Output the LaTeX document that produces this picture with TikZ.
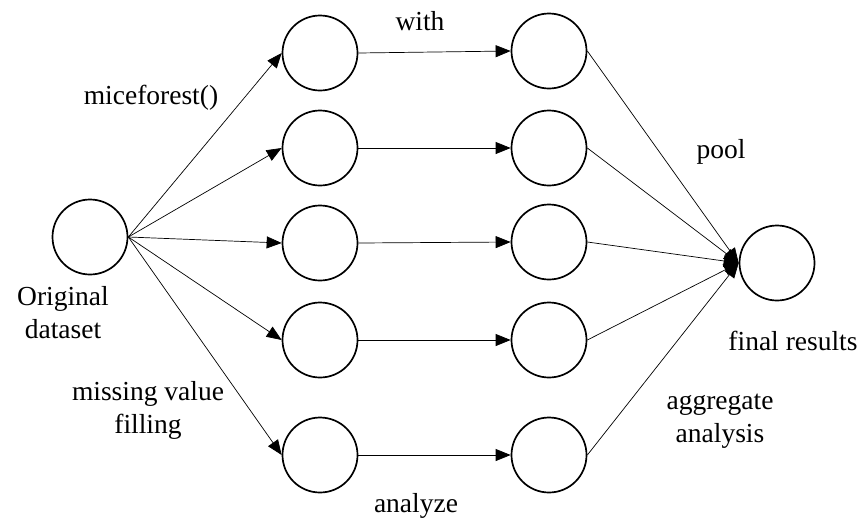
\documentclass[tikz,border=0pt]{standalone}
\usepackage{fontspec}
\setmainfont{Liberation Serif}
\usetikzlibrary{arrows.meta}
\begin{document}
\begin{tikzpicture}[x=1pt,y=-1pt,
  state/.style={circle,draw,line width=1.7pt,minimum size=75pt,inner sep=0pt},
  flow/.style={line width=0.7pt,-{Triangle[length=15pt,width=12pt]}},
  lbl/.style={font=\fontsize{27.5}{33}\selectfont,align=center,inner sep=0pt,anchor=base}]
\useasboundingbox (0,0) rectangle (866,520);

% source dataset
\node[state] (src) at (90,237) {};

% imputed datasets
\node[state] (a1) at (320,53) {};
\node[state] (a2) at (320,148) {};
\node[state] (a3) at (320,243) {};
\node[state] (a4) at (320,340) {};
\node[state] (a5) at (320,455) {};

% analysed datasets
\node[state] (b1) at (549,51) {};
\node[state] (b2) at (549,148) {};
\node[state] (b3) at (549,242) {};
\node[state] (b4) at (549,340) {};
\node[state] (b5) at (549,455) {};

% pooled result
\node[state] (fin) at (777,263) {};

% connectors
\foreach \i in {1,...,5} {
  \draw[flow] (src.east) -- (a\i.west);
  \draw[flow] (a\i.east) -- (b\i.west);
  \draw[flow] (b\i.east) -- (fin.west);
}

% labels (multi-line nodes are placed by the baseline of their last line)
\node[lbl] (tMice) at (151,104) {miceforest()};
\node[lbl] (tWith) at (420,30) {with};
\node[lbl] (tPool) at (721,158) {pool};
\node[lbl] (tOrig) at (63,338) {Original\\dataset};
\node[lbl] (tFill) at (148,433) {missing value\\filling};
\node[lbl] (tAnal) at (416,512) {analyze};
\node[lbl] (tFinal) at (793,350) {final results};
\node[lbl] (tAggr) at (720,442) {aggregate\\analysis};
\end{tikzpicture}
\end{document}
